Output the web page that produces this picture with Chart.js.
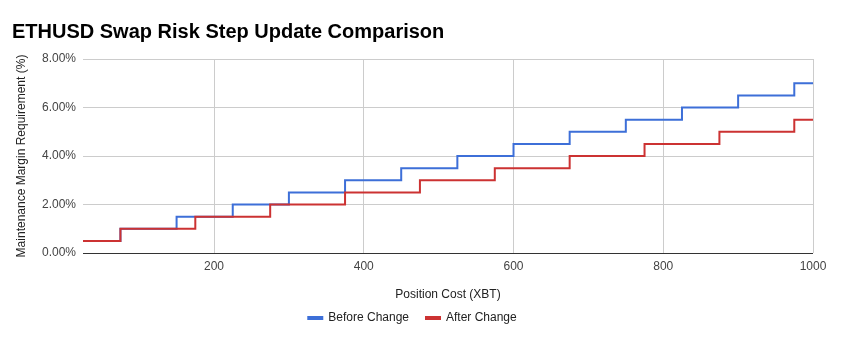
<!DOCTYPE html>
<html>
<head>
<meta charset="utf-8">
<script src="https://cdn.jsdelivr.net/npm/chart.js@4"></script>
<style>
  html, body { margin: 0; padding: 0; background: #fff; }
  #wrap { width: 852px; height: 353px; }
</style>
</head>
<body>
<div id="wrap"><canvas id="chart" width="852" height="353"></canvas></div>
<script>
// Step points: value holds from each x until the next x
const beforeX = [25, 75, 150, 225, 300, 375, 450, 525, 600, 675, 750, 825, 900, 975, 1000];
const beforeY = [0.5, 1.0, 1.5, 2.0, 2.5, 3.0, 3.5, 4.0, 4.5, 5.0, 5.5, 6.0, 6.5, 7.0, 7.0];
const afterX = [25, 75, 175, 275, 375, 475, 575, 675, 775, 875, 975, 1000];
const afterY = [0.5, 1.0, 1.5, 2.0, 2.5, 3.0, 3.5, 4.0, 4.5, 5.0, 5.5, 5.5];
const xTicks = [200, 400, 600, 800, 1000];
const yTicks = [0, 2, 4, 6, 8];

const FONT = "'Liberation Sans', Arial, sans-serif";

function toPoints(xs, ys) {
    return xs.map((x, i) => ({ x: x, y: ys[i] }));
}

// nudge the legend up a little so it sits close to the axis title
const legendShift = {
    id: 'legendShift',
    afterLayout(chart) {
        chart.legend.top -= 7;
        chart.legend.bottom -= 7;
    }
};

const ctx = document.getElementById('chart').getContext('2d');
const chart = new Chart(ctx, {
    type: 'line',
    data: {
        datasets: [{
            label: 'Before Change',
            data: toPoints(beforeX, beforeY),
            borderColor: '#3d6fd8',
            backgroundColor: '#3d6fd8',
            borderWidth: 2,
            pointRadius: 0,
            stepped: true,
            order: 1
        }, {
            label: 'After Change',
            data: toPoints(afterX, afterY),
            borderColor: '#cc3232',
            backgroundColor: '#cc3232',
            borderWidth: 2,
            pointRadius: 0,
            stepped: true,
            order: 0
        }]
    },
    options: {
        responsive: false,
        animation: false,
        devicePixelRatio: 1,
        layout: {
            padding: { left: 12, right: 39, top: 0, bottom: 12 }
        },
        plugins: {
            title: {
                display: true,
                text: 'ETHUSD Swap Risk Step Update Comparison',
                align: 'start',
                color: '#000',
                font: { family: FONT, size: 20, weight: 'bold' },
                padding: { top: 20, bottom: 15 }
            },
            legend: {
                position: 'bottom',
                labels: {
                    boxWidth: 14,
                    boxHeight: 2,
                    padding: 17,
                    color: '#222',
                    font: { family: FONT, size: 12 },
                    sort: (a, b) => a.datasetIndex - b.datasetIndex
                }
            },
            tooltip: { enabled: false }
        },
        scales: {
            x: {
                type: 'linear',
                min: 25,
                max: 1000,
                afterBuildTicks: scale => {
                    scale.ticks = xTicks.map(v => ({ value: v }));
                },
                afterFit: scale => { scale.height = 49; },
                grid: { color: '#cccccc', drawTicks: false },
                border: { display: false },
                ticks: {
                    padding: 6,
                    color: '#444',
                    font: { family: FONT, size: 12 },
                    callback: v => String(v)
                },
                title: {
                    display: true,
                    text: 'Position Cost (XBT)',
                    color: '#222',
                    font: { family: FONT, size: 12 },
                    padding: { top: 0, bottom: 0 }
                }
            },
            y: {
                min: 0,
                max: 8,
                afterBuildTicks: scale => {
                    scale.ticks = yTicks.map(v => ({ value: v }));
                },
                afterFit: scale => { scale.width = 71; },
                grid: {
                    drawTicks: false,
                    color: c => (c.tick && c.tick.value === 0) ? '#333333' : '#cccccc'
                },
                border: { display: false },
                ticks: {
                    padding: 7,
                    color: '#444',
                    font: { family: FONT, size: 12 },
                    callback: v => v.toFixed(2) + '%'
                },
                title: {
                    display: true,
                    text: 'Maintenance Margin Requirement (%)',
                    color: '#222',
                    font: { family: FONT, size: 12 },
                    padding: { top: 2, bottom: 0 }
                }
            }
        }
    },
    plugins: [legendShift]
});
</script>
</body>
</html>
